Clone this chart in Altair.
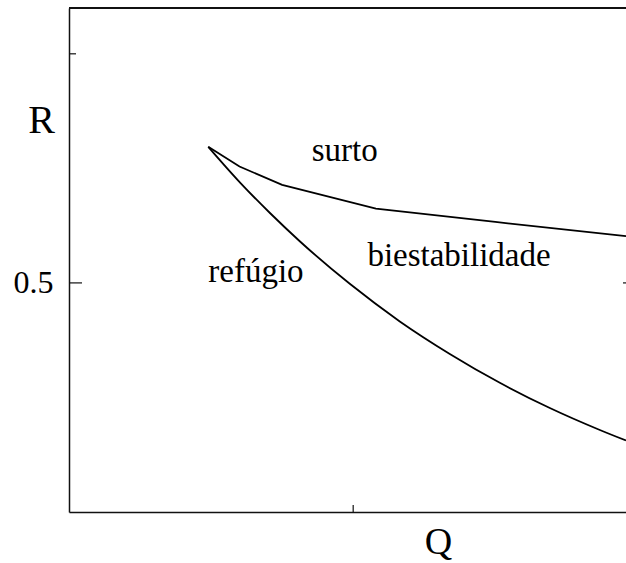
import altair as alt
import pandas as pd

# Boundary between "surto" and "biestabilidade"
upper_q = [0.245, 0.30, 0.375, 0.54, 0.75, 0.98]
upper_r = [0.797, 0.754, 0.714, 0.662, 0.633, 0.602]

# Boundary between "refúgio" and "biestabilidade"
lower_q = [0.245, 0.301, 0.354, 0.406, 0.494, 0.582, 0.670, 0.758, 0.846, 0.934, 0.98]
lower_r = [0.797, 0.719, 0.652, 0.591, 0.498, 0.416, 0.345, 0.282, 0.227, 0.179, 0.156]

# Region labels
region_text = ["surto", "refúgio", "biestabilidade"]
region_q = [0.427, 0.245, 0.525]
region_r = [0.765, 0.503, 0.536]

W, H = 557, 504
FONT = "Liberation Serif"
INK = "#111111"

x_scale = alt.Scale(domain=[0, 0.98], nice=False, zero=False)
y_scale = alt.Scale(domain=[0, 1.1], nice=False, zero=False)

upper = pd.DataFrame({"Q": upper_q, "R": upper_r})
lower = pd.DataFrame({"Q": lower_q, "R": lower_r})
regions = pd.DataFrame({"t": region_text, "Q": region_q, "R": region_r})

x_enc = alt.X(
    "Q:Q", scale=x_scale,
    axis=alt.Axis(
        title="Q", values=[0.5], labels=False, ticks=False, tickSize=0,
        domain=True, domainColor=INK, domainWidth=1.5, grid=False,
        titleFont=FONT, titleFontSize=38, titleFontWeight="normal", titleColor="black",
        titleAngle=0, titleX=369, titleY=41, titleAlign="center", titleBaseline="alphabetic",
    ),
)
y_enc = alt.Y(
    "R:Q", scale=y_scale,
    axis=alt.Axis(
        title="R", values=[0.5], format=".1f", ticks=False, tickSize=0,
        domain=True, domainColor=INK, domainWidth=1.5, grid=False,
        labelFont=FONT, labelFontSize=32, labelColor="black", labelPadding=16,
        titleFont=FONT, titleFontSize=40, titleFontWeight="normal", titleColor="black",
        titleAngle=0, titleX=-28, titleY=124, titleAlign="center", titleBaseline="alphabetic",
    ),
)

upper_line = alt.Chart(upper).mark_line(color="black", strokeWidth=1.8).encode(x=x_enc, y=y_enc)
lower_line = alt.Chart(lower).mark_line(
    color="black", strokeWidth=1.8, interpolate="monotone"
).encode(x="Q:Q", y="R:Q")

labels = alt.Chart(regions).mark_text(
    font=FONT, fontSize=33, align="left", baseline="alphabetic", color="black"
).encode(x="Q:Q", y="R:Q", text="t:N")

# Inward tick marks and the top edge of the frame
left_major = alt.Chart(pd.DataFrame({"R": [0.5]})).mark_rule(color=INK, strokeWidth=1.2).encode(
    y="R:Q", x=alt.value(0), x2=alt.value(13))
left_minor = alt.Chart(pd.DataFrame({"R": [1.0]})).mark_rule(color=INK, strokeWidth=1.2).encode(
    y="R:Q", x=alt.value(0), x2=alt.value(7))
right_major = alt.Chart(pd.DataFrame({"R": [0.5]})).mark_rule(color=INK, strokeWidth=1.2).encode(
    y="R:Q", x=alt.value(W - 3), x2=alt.value(W))
bottom_tick = alt.Chart(pd.DataFrame({"Q": [0.5]})).mark_rule(color=INK, strokeWidth=1.2).encode(
    x="Q:Q", y=alt.value(H - 7), y2=alt.value(H))
top_edge = alt.Chart(pd.DataFrame({"Q": [0]})).mark_rule(color=INK, strokeWidth=2).encode(
    y=alt.value(0), x=alt.value(0), x2=alt.value(W))

chart = alt.layer(
    upper_line, lower_line, labels, left_major, left_minor, right_major, bottom_tick, top_edge
).properties(
    width=W, height=H,
    autosize=alt.AutoSizeParams(type="none"),
    padding={"left": 69, "top": 8, "right": 0, "bottom": 51},
    background="white",
).configure_view(stroke=None)

chart.save("out.html", embed_options={"renderer": "svg", "actions": False})
